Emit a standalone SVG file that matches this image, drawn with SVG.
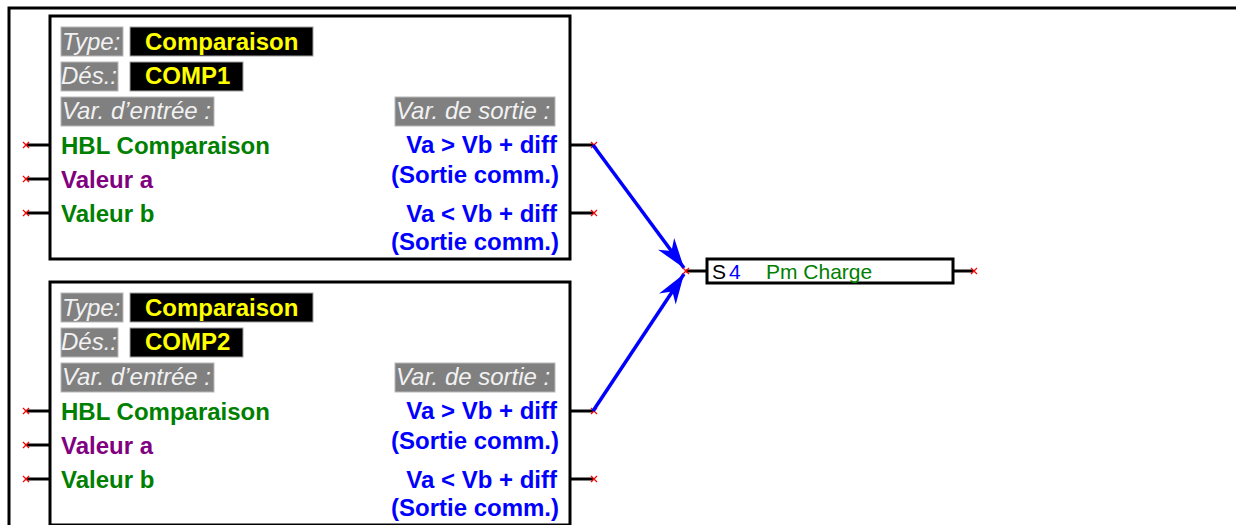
<svg xmlns="http://www.w3.org/2000/svg" xmlns:xlink="http://www.w3.org/1999/xlink" width="1236" height="525" viewBox="0 0 1236 525">
<style>
.frame{fill:none;stroke:#000;stroke-width:3}
.box{fill:#fff;stroke:#000;stroke-width:3}
.pin{stroke:#000;stroke-width:3}
.gray{fill:#808080;stroke:#b8b8b8;stroke-width:1}
.blk{fill:#000;stroke:#a0a0a0;stroke-width:1}
.lbl{font-family:"Liberation Sans",Arial,sans-serif;font-size:24px;font-style:italic;fill:#f2f2f2}
.val{font-family:"Liberation Sans",Arial,sans-serif;font-size:24px;font-weight:bold;fill:#ffff00}
.t{font-family:"Liberation Sans",Arial,sans-serif;font-size:24px;font-weight:bold}
.g{fill:#008000}
.p{fill:#800080}
.b{fill:#0000ff}
.r{text-anchor:end}
.conn{stroke:#0000ff;stroke-width:3.5;fill:none}
.xm{stroke:#ff0000;stroke-width:1.2;fill:none}
.s4{font-family:"Liberation Sans",Arial,sans-serif;font-size:21px}
</style>
<defs>
<path id="xm" class="xm" d="M-3,-3 L3,3 M-3,3 L3,-3"/>
<marker id="arr" markerUnits="userSpaceOnUse" viewBox="-32 -12 34 24" markerWidth="34" markerHeight="24" refX="0" refY="0" orient="auto">
<path d="M0,0 L-30,-10 L-21,0 L-30,10 Z" fill="#0000ff"/>
</marker>
<g id="comp">
<rect class="box" x="50" y="16" width="520" height="243"/>
<line class="pin" x1="27" y1="145" x2="50" y2="145"/>
<line class="pin" x1="27" y1="179" x2="50" y2="179"/>
<line class="pin" x1="27" y1="213" x2="50" y2="213"/>
<line class="pin" x1="570" y1="145" x2="593" y2="145"/>
<line class="pin" x1="570" y1="213" x2="593" y2="213"/>
<use xlink:href="#xm" x="26" y="145"/>
<use xlink:href="#xm" x="26" y="179"/>
<use xlink:href="#xm" x="26" y="213"/>
<use xlink:href="#xm" x="594" y="145"/>
<use xlink:href="#xm" x="594" y="213"/>
<rect class="gray" x="61" y="27" width="62" height="29"/>
<rect class="blk" x="130" y="27" width="183" height="29"/>
<rect class="gray" x="61" y="62" width="57" height="29"/>
<rect class="blk" x="130" y="62" width="113" height="29"/>
<rect class="gray" x="61" y="97" width="153" height="29"/>
<rect class="gray" x="395" y="97" width="160" height="29"/>
<text class="lbl" x="62" y="50">Type:</text>
<text class="lbl" x="61" y="84">Dés.:</text>
<text class="lbl" x="62" y="119">Var. d’entrée :</text>
<text class="lbl" x="396" y="119">Var. de sortie :</text>
<text class="t g" x="61" y="154">HBL Comparaison</text>
<text class="t p" x="61" y="188">Valeur a</text>
<text class="t g" x="61" y="222">Valeur b</text>
<text class="t b r" x="557" y="153">Va &gt; Vb + diff</text>
<text class="t b r" x="559" y="183">(Sortie comm.)</text>
<text class="t b r" x="557" y="222">Va &lt; Vb + diff</text>
<text class="t b r" x="559" y="250">(Sortie comm.)</text>
</g>
</defs>
<path class="frame" d="M9,525 V8 H1236"/>
<g id="comp1">
<use xlink:href="#comp"/>
<text class="val" x="145" y="50">Comparaison</text>
<text class="val" x="145" y="84">COMP1</text>
</g>
<g id="comp2" transform="translate(0,266)">
<use xlink:href="#comp"/>
<text class="val" x="145" y="50">Comparaison</text>
<text class="val" x="145" y="84">COMP2</text>
</g>
<g id="s4">
<line class="pin" x1="686" y1="271" x2="707" y2="271"/>
<line class="pin" x1="953" y1="271" x2="973" y2="271"/>
<rect class="box" x="707" y="259" width="246" height="24"/>
<use xlink:href="#xm" x="974" y="271"/>
<text class="s4" x="712" y="279" fill="#000">S</text>
<text class="s4" x="729" y="279" fill="#0000ff">4</text>
<text class="s4" x="766" y="279" fill="#008000">Pm Charge</text>
</g>
<g id="connectors">
<line class="conn" x1="593" y1="145" x2="684" y2="268" marker-end="url(#arr)"/>
<line class="conn" x1="593" y1="411" x2="684" y2="274" marker-end="url(#arr)"/>
<use xlink:href="#xm" x="686" y="271"/>
</g>
</svg>
